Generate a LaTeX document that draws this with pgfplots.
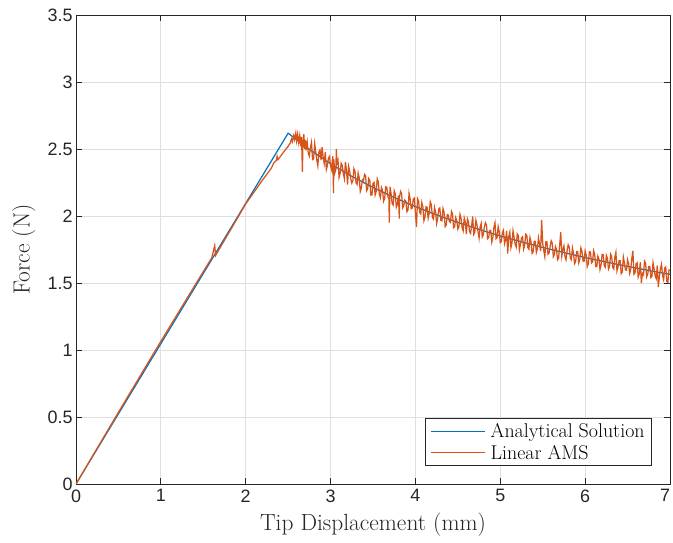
\documentclass[border=0pt]{standalone}
\usepackage{fontspec}
\usepackage{pgfplots}
\pgfplotsset{compat=1.18}
\newfontfamily\ticksf{Liberation Sans}
\definecolor{mblue}{rgb}{0,0.447,0.741}
\definecolor{morange}{rgb}{0.85,0.325,0.098}
\definecolor{axcol}{rgb}{0.15,0.15,0.15}
\definecolor{gridcol}{rgb}{0.875,0.875,0.875}
\begin{document}
\begin{tikzpicture}
\path[use as bounding box] (-76bp,-59bp) rectangle (597bp,484bp);
\begin{axis}[
  scale only axis, width=594bp, height=469bp,
  xmin=0, xmax=7, ymin=0, ymax=3.5,
  xtick={0,1,2,3,4,5,6,7},
  xticklabels={0,1,2,3,4,5,6,\makebox[0pt][r]{7}},
  ytick={0,0.5,1,1.5,2,2.5,3,3.5},
  xtick pos=both, ytick pos=both,
  tick align=inside, major tick length=6bp,
  grid=major,
  major grid style={color=gridcol, line width=0.8bp},
  axis line style={color=axcol, line width=0.9bp},
  tick style={color=axcol, line width=0.9bp},
  /pgf/number format/assume math mode=true,
  tick label style={font=\ticksf\fontsize{18}{20}\selectfont, text=axcol},
  xticklabel style={yshift=-2bp},
  label style={font=\fontsize{23.5}{26}\selectfont, text=axcol},
  xlabel={Tip Displacement (mm)},
  ylabel={Force (N)},
  xlabel style={at={(axis description cs:0.5,-0.0874)}, anchor=center},
  ylabel style={at={(axis description cs:-0.088,0.5)}, anchor=center},
  legend style={at={(rel axis cs:0.9697,0.0384)}, anchor=south east,
    draw=axcol, line width=0.8bp, fill=white, font=\fontsize{20}{22}\selectfont,
    inner xsep=5bp, inner ysep=3bp, row sep=2bp, text=black},
  legend cell align=left,
  legend image code/.code={\draw[#1, line width=1.2bp] (0bp,0bp) -- (54bp,0bp); \path (57bp,0bp);},
]
\addplot[color=mblue, line width=1.2bp] coordinates {
(0,0) (2.5,2.618) (2.75,2.497) (3.0,2.390) (3.25,2.296) (3.5,2.213) (3.75,2.138)
(4.0,2.070) (4.25,2.008) (4.5,1.952) (4.75,1.900) (5.0,1.851) (5.25,1.807)
(5.5,1.765) (5.75,1.727) (6.0,1.690) (6.25,1.656) (6.5,1.624) (6.75,1.593) (7.0,1.565)
};
\addlegendentry{Analytical Solution}
\addplot[color=morange, line width=1.25bp] table {
x y
0 0
0.5 0.535
1.0 1.065
1.5 1.585
1.6 1.688
1.635 1.780
1.645 1.705
1.66 1.722
2.0 2.090
2.2 2.270
2.3 2.355
2.33 2.395
2.36 2.415
2.37 2.445
2.38 2.420
2.45 2.480
2.500 2.520
2.525 2.545
2.540 2.575
2.550 2.555
2.565 2.600
2.575 2.570
2.590 2.620
2.600 2.560
2.612 2.610
2.625 2.545
2.637 2.600
2.650 2.520
2.658 2.590
2.668 2.330
2.675 2.560
2.685 2.610
2.695 2.500
2.705 2.565
2.712 2.490
2.725 2.550
2.737 2.470
2.750 2.447
2.7625 2.511
2.775 2.551
2.7875 2.421
2.800 2.426
2.8125 2.540
2.825 2.480
2.8375 2.419
2.850 2.374
2.8625 2.478
2.875 2.493
2.8875 2.418
2.900 2.513
2.9125 2.437
2.925 2.392
2.9375 2.476
2.950 2.346
2.9625 2.376
2.975 2.431
2.9875 2.445
3.000 2.375
3.0125 2.345
3.025 2.446
3.035 2.170
3.0375 2.426
3.050 2.321
3.0625 2.346
3.068 2.500
3.075 2.392
3.0875 2.417
3.100 2.287
3.1125 2.317
3.125 2.393
3.1375 2.378
3.150 2.319
3.1625 2.279
3.175 2.404
3.1875 2.340
3.200 2.235
3.2125 2.370
3.225 2.335
3.2375 2.280
3.250 2.246
3.2625 2.262
3.275 2.353
3.2875 2.334
3.300 2.249
3.3125 2.235
3.325 2.321
3.3375 2.287
3.350 2.183
3.3625 2.209
3.375 2.270
3.3875 2.261
3.400 2.311
3.4125 2.302
3.425 2.188
3.4375 2.204
3.450 2.280
3.4625 2.266
3.475 2.156
3.4875 2.157
3.500 2.243
3.5125 2.250
3.525 2.156
3.5375 2.182
3.550 2.278
3.5625 2.255
3.575 2.161
3.5875 2.137
3.600 2.213
3.6125 2.190
3.625 2.111
3.6375 2.132
3.650 2.218
3.6625 2.215
3.675 2.146
3.6875 2.127
3.692 1.950
3.700 2.218
3.7125 2.170
3.725 2.096
3.7375 2.082
3.750 2.188
3.7625 2.165
3.775 2.066
3.7875 2.088
3.800 2.154
3.810 1.980
3.8125 2.141
3.825 2.183
3.8375 2.164
3.850 2.061
3.8625 2.078
3.875 2.119
3.8875 2.111
3.900 2.032
3.9125 2.044
3.925 2.170
3.9375 2.127
3.950 2.054
3.9625 2.060
3.975 2.127
3.9875 2.133
4.000 2.020
4.0125 1.920
4.025 2.129
4.0375 2.111
4.050 2.028
4.0625 2.015
4.075 2.101
4.0875 2.068
4.100 1.965
4.1125 1.992
4.125 2.069
4.1375 2.066
4.150 1.983
4.1625 2.020
4.175 2.107
4.1875 2.084
4.200 1.990
4.2125 1.977
4.225 2.064
4.2375 2.031
4.250 1.943
4.2625 1.985
4.275 2.052
4.2875 2.060
4.300 1.967
4.3125 1.964
4.325 2.056
4.3375 2.029
4.350 1.921
4.3625 1.933
4.375 2.010
4.3875 2.007
4.400 1.959
4.4125 1.952
4.425 2.034
4.4375 2.016
4.450 1.913
4.4625 1.921
4.475 1.988
4.4875 1.965
4.500 1.902
4.5125 1.920
4.525 2.012
4.5375 1.985
4.550 1.912
4.5625 1.889
4.575 1.986
4.5875 1.954
4.600 1.866
4.6125 1.979
4.625 1.956
4.6375 1.884
4.650 1.871
4.6625 1.929
4.675 1.996
4.6875 1.863
4.700 1.880
4.7125 1.968
4.725 1.935
4.7375 1.883
4.750 1.835
4.7625 1.918
4.775 1.945
4.7875 1.843
4.800 1.860
4.8125 1.918
4.825 1.950
4.8375 1.933
4.850 1.830
4.8625 1.838
4.875 1.891
4.8875 1.893
4.900 1.806
4.9125 1.839
4.925 1.916
4.9375 1.950
4.950 1.831
4.9625 1.839
4.975 1.921
4.9875 1.884
5.000 1.801
5.0125 1.809
5.025 1.877
5.0375 1.895
5.050 1.792
5.0625 1.820
5.075 1.888
5.0875 1.720
5.100 1.848
5.1125 1.881
5.125 1.764
5.1375 1.797
5.150 1.890
5.1625 1.843
5.175 1.790
5.1875 1.768
5.200 1.866
5.2125 1.854
5.225 1.746
5.2375 1.789
5.250 1.837
5.2625 1.845
5.275 1.753
5.2875 1.781
5.300 1.864
5.3125 1.857
5.325 1.764
5.3375 1.752
5.350 1.840
5.3625 1.808
5.375 1.721
5.3875 1.734
5.400 1.812
5.4125 1.810
5.425 1.728
5.4375 1.756
5.450 1.838
5.4625 1.791
5.475 1.739
5.4875 1.970
5.500 1.795
5.5125 1.743
5.525 1.696
5.5375 1.809
5.550 1.807
5.5625 1.715
5.575 1.724
5.5875 1.772
5.600 1.815
5.6125 1.798
5.625 1.696
5.6375 1.714
5.650 1.772
5.6625 1.750
5.675 1.673
5.6875 1.686
5.700 1.785
5.7125 1.880
5.725 1.701
5.7375 1.749
5.750 1.777
5.7625 1.695
5.775 1.673
5.7875 1.742
5.800 1.785
5.8125 1.768
5.825 1.686
5.8375 1.674
5.850 1.762
5.8625 1.721
5.875 1.644
5.8875 1.657
5.900 1.735
5.9125 1.733
5.925 1.651
5.9375 1.679
5.950 1.762
5.9625 1.736
5.975 1.664
5.9875 1.662
6.000 1.740
6.0125 1.709
6.025 1.622
6.0375 1.645
6.050 1.733
6.0625 1.732
6.075 1.650
6.0875 1.658
6.100 1.741
6.1125 1.715
6.125 1.623
6.1375 1.622
6.150 1.700
6.1625 1.678
6.175 1.601
6.1875 1.635
6.200 1.713
6.2125 1.711
6.225 1.629
6.2375 1.618
6.250 1.706
6.2625 1.685
6.275 1.603
6.2875 1.622
6.300 1.715
6.3125 1.698
6.325 1.616
6.3375 1.605
6.350 1.693
6.3625 1.730
6.375 1.590
6.3875 1.619
6.400 1.667
6.4125 1.666
6.425 1.569
6.4375 1.582
6.450 1.695
6.4625 1.649
6.475 1.597
6.4875 1.596
6.500 1.674
6.5125 1.643
6.525 1.571
6.5375 1.600
6.550 1.683
6.5625 1.740
6.575 1.565
6.5875 1.574
6.600 1.642
6.6125 1.651
6.625 1.544
6.6375 1.567
6.650 1.655
6.6625 1.500
6.675 1.572
6.6875 1.561
6.700 1.664
6.7125 1.648
6.725 1.546
6.7375 1.565
6.750 1.623
6.7625 1.622
6.775 1.540
6.7875 1.549
6.800 1.652
6.8125 1.606
6.825 1.554
6.8375 1.533
6.850 1.632
6.8625 1.470
6.875 1.549
6.8875 1.608
6.900 1.641
6.9125 1.555
6.925 1.523
6.9375 1.612
6.950 1.620
6.9625 1.510
6.975 1.503
6.9875 1.597
7.000 1.595
};
\addlegendentry{Linear AMS}
\end{axis}
\end{tikzpicture}
\end{document}
